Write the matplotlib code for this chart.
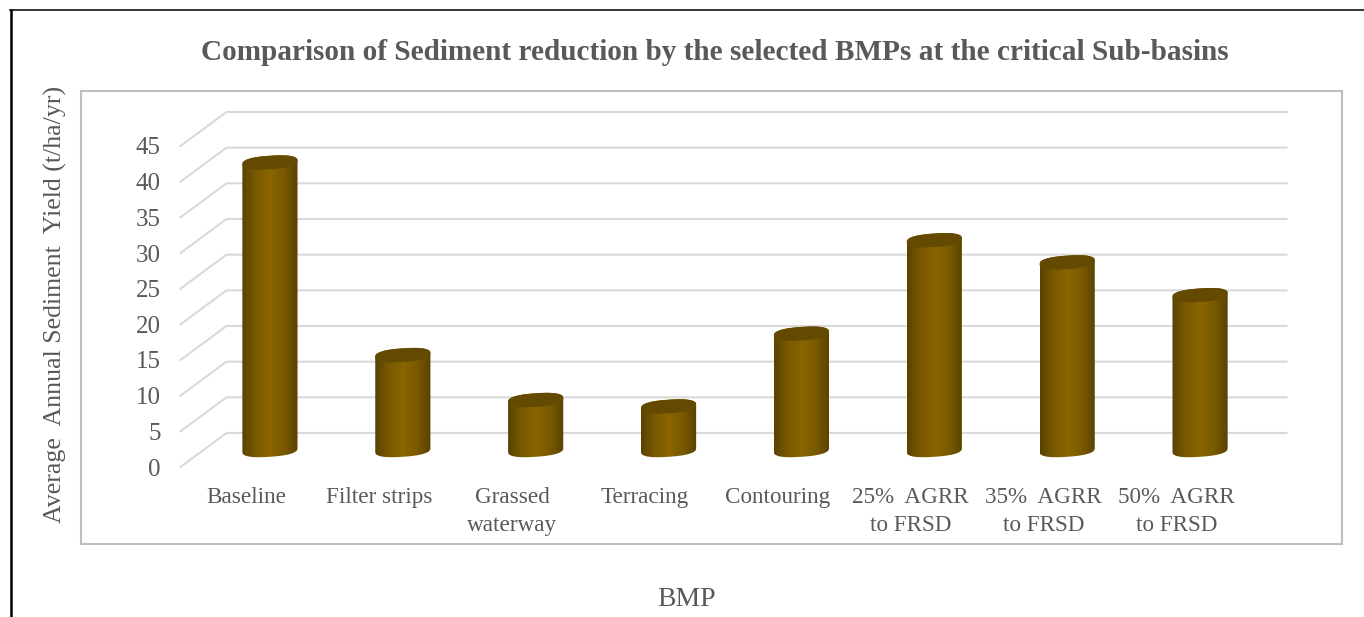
#!/usr/bin/env python3
import numpy as np
import matplotlib
matplotlib.use('Agg')
import matplotlib.pyplot as plt
from matplotlib.colors import LinearSegmentedColormap
from matplotlib.patches import Polygon, Rectangle
from matplotlib.transforms import ScaledTranslation

plt.rcParams['font.family'] = ['Liberation Serif', 'DejaVu Serif']

W, H = 1364, 617
DPI = 100

bmps = ['Baseline', 'Filter strips', 'Grassed\nwaterway', 'Terracing', 'Contouring',
        '25%  AGRR\nto FRSD', '35%  AGRR\nto FRSD', '50%  AGRR\nto FRSD']
sediment = [40.3, 13.3, 7.0, 6.1, 16.3, 29.4, 26.3, 21.7]
y_ticks = [0, 5, 10, 15, 20, 25, 30, 35, 40, 45]

TEXT = '#595959'
GRID = '#d9d9d9'
FRAME = '#bfbfbf'

# pseudo 3D settings, the bars stand halfway along the floor depth
DEPTH_X, DEPTH_Y = 23, 17
BAR_W = 0.415
CAP_B = 0.95
CAP_TILT = 0.26
bar_cmap = LinearSegmentedColormap.from_list('bronze', ['#5a4200', '#7a5a00', '#8a6500', '#7a5a00', '#5a4200'])
CAP_COLOR = '#644a00'


def px_box(left, top, right, bottom):
    return [left / W, 1 - bottom / H, (right - left) / W, (bottom - top) / H]


def shift(ax, dx, dy):
    off = ScaledTranslation(dx / DPI, dy / DPI, ax.figure.dpi_scale_trans)
    return ax.transData + off


def ellipse(xc, yc, t):
    # slightly squared ellipse, the ends of the caps are blunt
    c, s = np.cos(t), np.sin(t)
    cx = np.sign(c) * np.abs(c) ** 0.8
    sy = np.sign(s) * np.abs(s) ** 0.8
    return xc + BAR_W / 2 * cx, yc + CAP_B * sy + CAP_TILT * cx


def draw_cylinder(ax, xc, val):
    t_low = np.linspace(0, -np.pi, 60)
    t_up = np.linspace(np.pi, 0, 60)
    xb, yb = ellipse(xc, 0, t_low)
    xt, yt = ellipse(xc, val, t_up)
    outline = Polygon(np.column_stack([np.r_[xb, xt], np.r_[yb, yt]]), closed=True,
                      facecolor='none', edgecolor='none', zorder=3)
    ax.add_patch(outline)
    grad = np.linspace(0, 1, 128).reshape(1, -1)
    im = ax.imshow(grad, cmap=bar_cmap, aspect='auto', zorder=3, interpolation='bilinear',
                   extent=[xc - BAR_W / 2, xc + BAR_W / 2, -2, val + 2])
    im.set_clip_path(outline)
    im.set_clip_box(ax.figure.bbox)
    t = np.linspace(0, 2 * np.pi, 120)
    xc2, yc2 = ellipse(xc, val, t)
    ax.fill(xc2, yc2, color=CAP_COLOR, lw=0, zorder=4)


fig = plt.figure(figsize=(W / DPI, H / DPI), dpi=DPI, facecolor='white')

# outer black rule and grey chart frame
fig.add_artist(plt.Line2D([11 / W, 11 / W], [0, 1 - 9.5 / H], color='black', lw=1.8,
                          transform=fig.transFigure))
fig.add_artist(plt.Line2D([10 / W, 1], [1 - 9.5 / H, 1 - 9.5 / H], color='black', lw=1.1,
                          transform=fig.transFigure))
fig.add_artist(Rectangle((80.5 / W, 1 - 543.5 / H), 1261.5 / W, 453 / H, fill=False,
                         edgecolor=FRAME, lw=1.5, transform=fig.transFigure))

# axes sit on the mid-depth plane of the 3D box
ax = fig.add_axes(px_box(203.5, 129, 1266.5, 450))
ax.set_xlim(-0.5, 7.5)
ax.set_ylim(0, 45)
ax.axis('off')

for v in y_ticks:
    x0, y0 = ax.transData.transform((-0.5, v))
    inv = ax.transData.inverted()
    xf, yf = inv.transform((x0 - DEPTH_X, y0 - DEPTH_Y))
    xb, yb = inv.transform((x0 + DEPTH_X, y0 + DEPTH_Y))
    xr, _ = inv.transform((1286.5, y0))
    ax.plot([xf, xb, xr], [yf, yb, yb], color=GRID, lw=1.5, clip_on=False, zorder=1,
            solid_joinstyle='miter')
    ax.text(-0.5, v, str(v), transform=shift(ax, -DEPTH_X - 20, -DEPTH_Y - 2.5), ha='right', va='center',
            fontsize=18, color=TEXT)

for i, (name, val) in enumerate(zip(bmps, sediment)):
    draw_cylinder(ax, i, val)
    ax.text(i, 0, name, transform=shift(ax, -DEPTH_X - 0.5, -37), ha='center', va='top',
            fontsize=16.7, color=TEXT, linespacing=1.42)

ax.set_xlim(-0.5, 7.5)
ax.set_ylim(0, 45)

fig.text(715 / W, 1 - 53 / H, 'Comparison of Sediment reduction by the selected BMPs at the critical Sub-basins',
         ha='center', va='center', fontsize=21.1, fontweight='bold', color=TEXT)
fig.text(55 / W, 1 - 304 / H, 'Average  Annual Sediment  Yield (t/ha/yr)', rotation=90,
         ha='center', va='center', fontsize=18.6, color=TEXT)
fig.text(687 / W, 1 - 600 / H, 'BMP', ha='center', va='center', fontsize=20, color=TEXT)

fig.savefig('out.png', dpi=DPI)
plt.close(fig)
